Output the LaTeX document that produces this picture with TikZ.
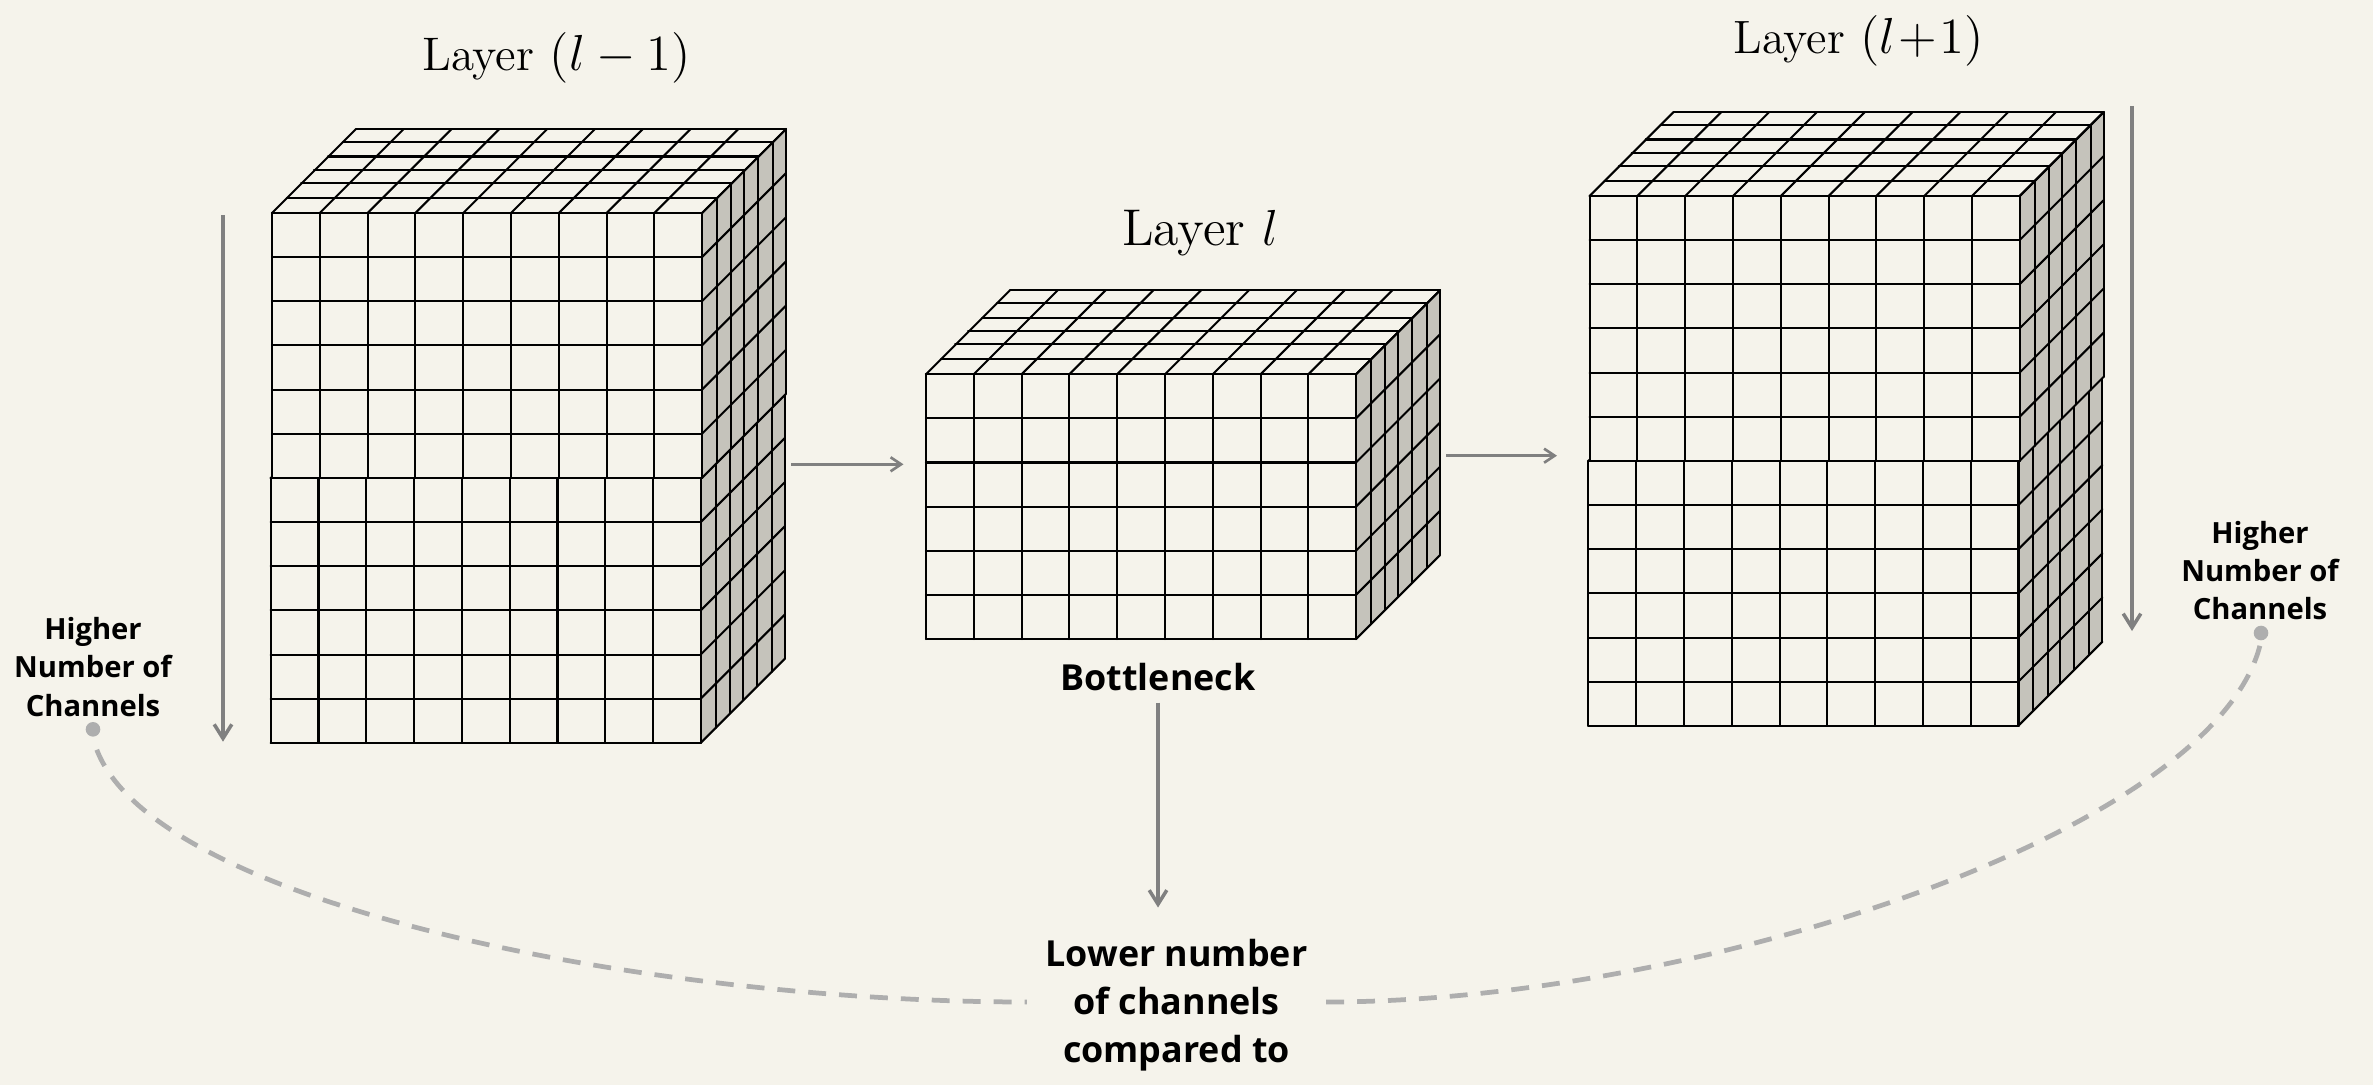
\documentclass[tikz,border=0pt]{standalone}
\usepackage{xcolor}
\usepackage{fontspec}
\usepackage{tikz}
\usetikzlibrary{arrows.meta, positioning, calc}
\newfontfamily\notefont{Open Sans}
\definecolor{paper}{HTML}{F5F3EB}
\definecolor{sideface}{HTML}{C5C3BB}
\definecolor{arrowgray}{HTML}{808080}
\definecolor{dashgray}{HTML}{AEAEAE}
% one block of cells: left, top, rows
\newcommand{\cellblock}[3]{
    \begin{scope}[shift={(#1,#2)}]
        \fill[paper] (0,0) -- (84,-84) -- (514,-84) -- (430,0) -- cycle;
        \fill[paper] (0,0) rectangle (430,#3*44.14);
        \fill[sideface] (430,0) -- (514,-84) -- (514,#3*44.14-84) -- (430,#3*44.14) -- cycle;
        \foreach \dx/\dy in {0/0, 15/15, 29.2/30, 42/43, 56/56.5, 71/71, 84/84} {
            \draw[cell] (\dx,-\dy) -- ++(430,0);
            \draw[cell] (430+\dx,-\dy) -- ++(0,#3*44.14);
        }
        \foreach \c in {0,...,9} {
            \draw[cell] (\c*47.8,0) -- ++(0,#3*44.14);
            \draw[cell] (\c*47.8,0) -- ++(84,-84);
        }
        \foreach \r in {0,...,#3} {
            \draw[cell] (0,\r*44.14) -- ++(430,0);
            \draw[cell] (430,\r*44.14) -- ++(84,-84);
        }
    \end{scope}
}

\begin{document}
\begin{tikzpicture}[
    x=0.01cm, y=-0.01cm,
    cell/.style={draw=black, line width=0.58pt, line cap=round},
    title/.style={font=\fontsize{13.4}{16}\selectfont},
    note/.style={font=\notefont\bfseries\fontsize{8.3}{10.9}\selectfont, align=center, inner sep=0pt},
    bignote/.style={font=\notefont\bfseries\fontsize{10.2}{13.6}\selectfont, align=center, inner sep=0.18cm},
    dot/.style={circle, fill=dashgray, inner sep=0pt, minimum size=0.146cm},
    longarrow/.style={-{Straight Barb[length=4pt, width=5pt]}, draw=arrowgray, line width=1pt},
    shortarrow/.style={-{Straight Barb[length=3pt, width=4pt]}, draw=arrowgray, line width=0.75pt},
    dashcurve/.style={draw=dashgray, line width=1.35pt, dash pattern=on 5.1pt off 3.7pt}
]
    \path[fill=paper, use as bounding box] (0,0) rectangle (2373,1085);

    % layer l-1, two stacked halves
    \cellblock{270.7}{478}{6}
    \cellblock{272}{213}{6}
    % layer l
    \cellblock{926}{374.2}{6}
    % layer l+1
    \cellblock{1588.3}{461}{6}
    \cellblock{1589.6}{196}{6}

    \node[title] at (556.5,58) (prevtitle) {Layer $(l-1)$};
    \node[title, font=\fontsize{14.7}{16}\selectfont] at (1200,233) (midtitle) {Layer $l$};
    \node[title, font=\fontsize{13.3}{16}\selectfont] at (1858.5,41) (nexttitle) {Layer $(l\!+\!1)$};

    \node[note] at (93,667) (leftnote) {Higher\\Number of\\Channels};
    \node[note] at (2260,570.5) (rightnote) {Higher\\Number of\\Channels};
    \node[bignote] at (1158,677) (bottleneck) {Bottleneck};
    \node[bignote] at (1176.5,1005) (lower) {Lower number\\of channels\\compared to};

    \node[dot] at (93,729.3) (leftdot) {};
    \node[dot] at (2261,633) (rightdot) {};

    \coordinate (prevtop) at (223,215);
    \coordinate (prevend) at (223,741.7);
    \coordinate (nexttop) at (2132,106);
    \coordinate (nextend) at (2132,631);
    \coordinate (prevout) at (791,464.3);
    \coordinate (midin) at (903.5,464.3);
    \coordinate (midout) at (1446.4,455.7);
    \coordinate (nextin) at (1557,455.7);

    \draw[longarrow] (prevtop) -- (prevend);
    \draw[longarrow] (nexttop) -- (nextend);
    \draw[shortarrow] (prevout) -- (midin);
    \draw[shortarrow] (midout) -- (nextin);
    \draw[longarrow, shorten <=-0.07cm, shorten >=0.13cm] (bottleneck.south) -- (bottleneck.south |- lower.north);

    \draw[dashcurve, dash phase=5.1pt] (leftdot.south) .. controls (130,900) and (640,1002) .. ([yshift=0.03cm]lower.west);
    \draw[dashcurve] ([yshift=0.03cm]lower.east) .. controls (1700,1002) and (2220,830) .. (rightdot.south);
\end{tikzpicture}
\end{document}
